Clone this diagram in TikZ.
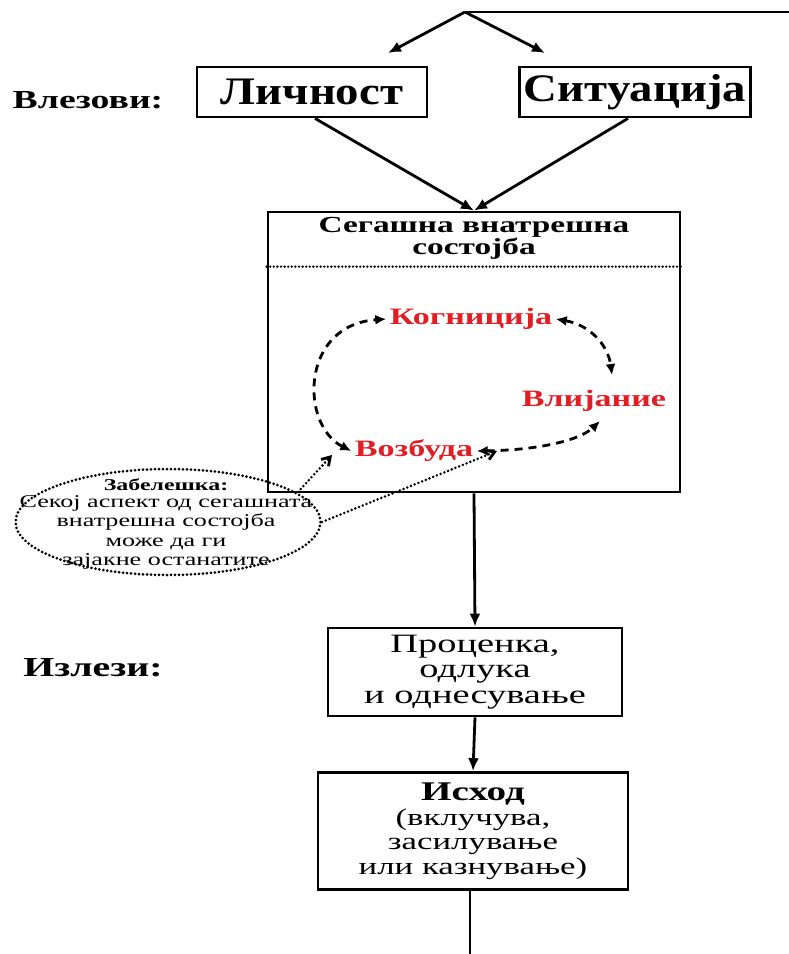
\documentclass[tikz,border=0pt]{standalone}
\usepackage{fontspec}
\setmainfont[FakeStretch=1.45]{Liberation Serif}
\newfontfamily\boxfont[FakeStretch=1.2]{Liberation Serif}
\usepackage{xcolor}
\usetikzlibrary{arrows.meta,shapes.geometric}

\definecolor{accred}{RGB}{225,30,35}

\tikzset{
  boxnode/.style={draw, line width=2.8pt, inner sep=0pt},
  flowarrow/.style={line width=2.8pt, -{Latex[length=13pt,width=11pt]}},
  loopdash/.style={line width=2.8pt, dash pattern=on 8pt off 6pt,
    {Latex[length=11pt,width=10pt]}-{Latex[length=11pt,width=10pt]}},
  notearrow/.style={line width=2.8pt, dash pattern=on 0pt off 4pt, line cap=round,
    -{Straight Barb[length=8pt,width=10pt,line cap=butt]}},
  redlabel/.style={text=accred, font=\fontsize{23.5}{25}\selectfont\bfseries},
}

\begin{document}
\begin{tikzpicture}[x=1pt,y=-1pt]
  \useasboundingbox (0,0) rectangle (789,954);

  % inputs
  \coordinate (top) at (465,12);
  \coordinate (topend) at (789,12);
  \node (inlabel) at (88,100) {\fontsize{26}{28}\selectfont\bfseries Влезови:};
  \node[boxnode, minimum width=230pt, minimum height=50pt] (person) at (312,92)
    {\boxfont\fontsize{39}{40}\selectfont\bfseries Личност};
  \node[boxnode, minimum width=231pt, minimum height=50pt] (situation) at (635,92)
    {\boxfont\fontsize{39}{40}\selectfont\bfseries Ситуација};
  \draw[line width=2.8pt] (top) -- (topend);
  \draw[flowarrow] (top) -- (388,53);
  \draw[flowarrow] (top) -- (545,53);

  % present internal state
  \node[boxnode, minimum width=412pt, minimum height=280pt] (state) at (474,352) {};
  \node[align=center, font=\fontsize{23}{22}\selectfont\bfseries, anchor=north] (statetitle)
    at ([yshift=-3pt]state.north) {Сегашна внатрешна\\состојба};
  \draw[line width=2.6pt, dash pattern=on 0pt off 3.6pt, line cap=round]
    ([yshift=-56pt]state.north west) -- ([yshift=-56pt]state.north east);
  \draw[flowarrow] (person.south) ++(3,0) -- (state.north);
  \draw[flowarrow] (situation.south) ++(-7,0) -- (state.north);

  \node[redlabel] (cog) at (471,319) {Когниција};
  \node[redlabel] (aff) at (594,401) {Влијание};
  \node[redlabel] (arou) at (414,451) {Возбуда};
  \draw[loopdash] (arou.west) .. controls (300,425) and (300,325) .. (cog.west);
  \draw[loopdash] (cog.east) .. controls (590,325) and (608,345) .. (612,375);
  \draw[loopdash] (arou.east) .. controls (540,450) and (580,440) .. (600,421);

  % note
  \node[ellipse, draw, line width=3pt, dash pattern=on 0pt off 4pt, line cap=round,
    minimum width=305pt, minimum height=106pt] (note) at (168,522) {};
  \node[font=\fontsize{16.5}{17}\selectfont\bfseries] (notetitle) at (166,485) {Забелешка:};
  \node[align=center, font=\fontsize{18}{19.5}\selectfont, anchor=north] (notetext) at (166,492)
    {Секој аспект од сегашната\\внатрешна состојба\\може да ги\\зајакне останатите};
  \draw[notearrow] (298,492) -- (332,455);
  \draw[notearrow] (note.east) -- (497,451);

  % outputs
  \node (outlabel) at (93,668) {\fontsize{27.5}{28}\selectfont\bfseries Излези:};
  \node[boxnode, minimum width=294pt, minimum height=88pt, align=center,
    font=\fontsize{26.5}{25.5}\selectfont] (judge) at (475,672) {Проценка,\\одлука\\и однесување};
  \node[boxnode, minimum width=310pt, minimum height=117pt, align=center,
    font=\fontsize{24}{24.5}\selectfont] (outcome) at (473,831)
    {{\fontsize{27}{24.5}\selectfont\bfseries Исход}\\(вклучува,\\засилување\\или казнување)};
  \coordinate (bottom) at (470,954);
  \draw[flowarrow] (state.south) -- (judge.north);
  \draw[flowarrow] (judge.south) -- (outcome.north);
  \draw[line width=2.8pt] (outcome.south) ++(-3,0) -- (bottom);
\end{tikzpicture}
\end{document}
